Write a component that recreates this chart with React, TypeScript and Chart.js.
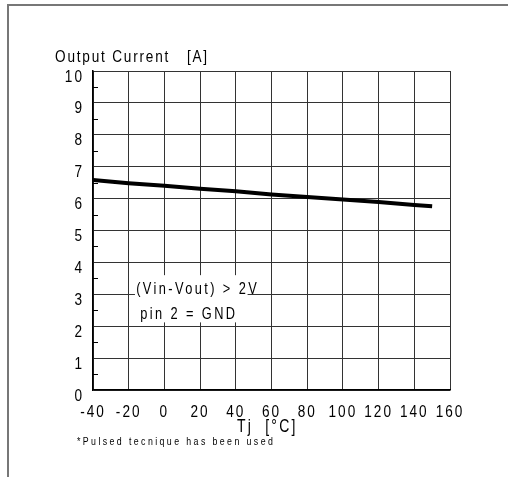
import React, { useEffect, useRef } from "react";
import { Chart, registerables } from "chart.js";

Chart.register(...registerables);

const temperatures = [-40, -20, 0, 20, 40, 60, 80, 100, 120, 140, 150];
const outputCurrent = [6.58, 6.48, 6.4, 6.31, 6.23, 6.13, 6.05, 5.97, 5.89, 5.8, 5.76];
const yTitle = "Output Current   [A]";
const xTitle = "Tj  [°C]";
const footnote = "*Pulsed tecnique has been used";
const noteLines = ["(Vin-Vout) > 2V", "pin 2 = GND"];
const minorYTicks = [0.5, 1.5, 2.5, 3.5, 4.5, 5.5, 6.5, 7.5, 8.5, 9.5];

const FONT = "'Liberation Sans', Arial, sans-serif";
const SX = 0.8;

function drawText(
  ctx: CanvasRenderingContext2D,
  text: string,
  x: number,
  y: number,
  size: number,
  spacing: number,
  align: "left" | "center" | "right"
) {
  ctx.save();
  ctx.translate(x, y);
  ctx.scale(SX, 1);
  ctx.font = `${size}px ${FONT}`;
  (ctx as any).letterSpacing = `${spacing / SX}px`;
  ctx.textBaseline = "alphabetic";
  ctx.textAlign = "left";
  const w = ctx.measureText(text).width - spacing / SX;
  let sx = 0;
  if (align === "center") sx = -w / 2;
  else if (align === "right") sx = -w;
  ctx.fillStyle = "#000";
  ctx.fillText(text, sx, 0);
  ctx.restore();
}

const decorPlugin = {
  id: "decor",
  afterDatasetsDraw(chart: any) {
    const ctx = chart.ctx;
    const xs = chart.scales.x;
    const ys = chart.scales.y;
    ctx.save();
    // minor ticks on y axis
    ctx.strokeStyle = "#000";
    ctx.lineWidth = 1;
    minorYTicks.forEach((v) => {
      const y = Math.round(ys.getPixelForValue(v)) + 0.5;
      ctx.beginPath();
      ctx.moveTo(xs.left, y);
      ctx.lineTo(xs.left + 5, y);
      ctx.stroke();
    });
    // annotation box
    const x0 = xs.getPixelForValue(-16.5);
    const x1 = xs.getPixelForValue(46.6);
    const y0 = ys.getPixelForValue(3.6);
    const y1 = ys.getPixelForValue(2.12);
    ctx.fillStyle = "#fff";
    ctx.fillRect(x0, y0, x1 - x0, y1 - y0);
    ctx.restore();
    drawText(ctx, noteLines[0], xs.getPixelForValue(-15.8), ys.getPixelForValue(3.02), 16, 2.4, "left");
    drawText(ctx, noteLines[1], xs.getPixelForValue(-13.5), ys.getPixelForValue(2.22), 16, 2.4, "left");
  },
  afterDraw(chart: any) {
    const ctx = chart.ctx;
    const xs = chart.scales.x;
    const ys = chart.scales.y;
    ctx.save();
    // outer frame
    ctx.strokeStyle = "#777";
    ctx.lineWidth = 2;
    ctx.beginPath();
    ctx.moveTo(8, 477);
    ctx.lineTo(8, 5);
    ctx.lineTo(508, 5);
    ctx.stroke();
    ctx.restore();
    // tick labels
    ys.ticks.forEach((t: any) => {
      const py = ys.getPixelForValue(t.value);
      drawText(ctx, String(t.label), xs.left - 11, py + 10.5, 17, 2, "right");
    });
    xs.ticks.forEach((t: any) => {
      const px = xs.getPixelForValue(t.value);
      drawText(ctx, String(t.label), px - 1, ys.bottom + 26.5, 17, 2, "center");
    });
    // titles
    drawText(ctx, yTitle, 55, ys.top - 9, 17, 1.8, "left");
    drawText(ctx, xTitle, 237, ys.bottom + 42, 17.5, 2.2, "left");
    drawText(ctx, footnote, 77, ys.bottom + 55.3, 11, 2.4, "left");
  },
};

export default function App() {
  const ref = useRef<HTMLCanvasElement>(null);
  useEffect(() => {
    document.body.style.margin = "0";
    const chart = new Chart(ref.current!, {
      type: "line",
      data: {
        datasets: [
          {
            data: temperatures.map((t, i) => ({ x: t, y: outputCurrent[i] })),
            borderColor: "#000",
            borderWidth: 4,
            pointRadius: 0,
            tension: 0,
          },
        ],
      },
      options: {
        animation: false,
        responsive: false,
        layout: { padding: { left: 50, top: 71, right: 58, bottom: 0 } },
        plugins: { legend: { display: false }, tooltip: { enabled: false }, title: { display: false } },
        scales: {
          x: {
            type: "linear",
            min: -40,
            max: 160,
            ticks: { stepSize: 20, display: false, autoSkip: false },
            grid: { color: "#333", lineWidth: 1, drawTicks: false },
            border: { display: true, color: "#000", width: 1.5 },
            afterFit(scale: any) {
              scale.height = 87;
            },
          },
          y: {
            min: 0,
            max: 10,
            ticks: { stepSize: 1, display: false },
            grid: { color: "#333", lineWidth: 1, drawTicks: false },
            border: { display: true, color: "#000", width: 1.5 },
            afterFit(scale: any) {
              scale.width = 43;
            },
          },
        },
      },
      plugins: [decorPlugin],
    });
    return () => chart.destroy();
  }, []);
  return (
    <div style={{ position: "absolute", left: 0, top: 0, width: 508, height: 477 }}>
      <canvas ref={ref} width={508} height={477} />
    </div>
  );
}
